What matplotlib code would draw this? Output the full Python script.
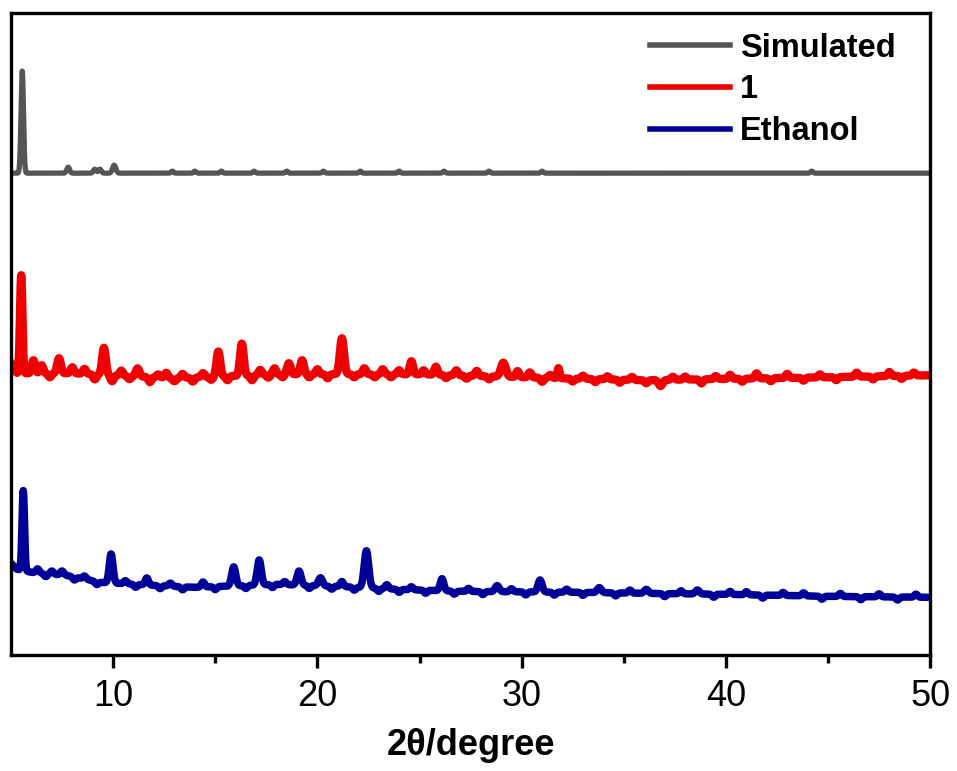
import numpy as np
import matplotlib
matplotlib.use("Agg")
import matplotlib.pyplot as plt

plt.rcParams['font.family'] = ['Liberation Sans', 'DejaVu Sans']

# 2theta grid of the scans
two_theta = np.linspace(5, 50, 4501)

# Simulated pattern (plot units, baseline level + peaks)
sim_base_x = [5.0, 50.0]
sim_base_y = [482, 482]
sim_pos = [5.55, 7.8, 9.1, 9.35, 10.05, 12.9, 14.0, 15.3, 16.9, 18.5, 20.3, 22.1, 24.0, 26.2, 28.4, 31.0, 44.2]
sim_height = [102, 6, 4, 4, 8, 2, 2, 2, 2, 2, 2, 2, 2, 2, 2, 2, 2]
sim_width = [0.06, 0.07, 0.07, 0.07, 0.08, 0.06, 0.06, 0.06, 0.06, 0.06, 0.06, 0.06, 0.06, 0.06, 0.06, 0.06, 0.06]

# Compound 1
c1_base_x = [5.0, 5.3, 8.0, 13.0, 18.0, 25.0, 30.0, 36.0, 45.0, 50.0]
c1_base_y = [292, 282, 282, 277, 281, 281, 278, 275, 278, 280]
c1_pos = [5.5, 6.1, 6.5, 6.9, 7.35, 8.0, 8.6, 9.1, 9.55, 9.95, 10.4, 10.8, 11.2, 11.8, 12.2, 12.6,
          13.0, 13.4, 13.9, 14.4, 14.8, 15.15, 15.6, 16.3, 16.8, 17.2, 17.6, 17.9, 18.3, 18.6,
          19.25, 19.6, 20.0, 20.5, 21.2, 21.8, 22.3, 22.8, 23.2, 23.6, 24.0, 24.6, 25.2, 25.8,
          26.3, 26.8, 27.3, 27.8, 28.4, 29.1, 29.8, 30.4, 31.0, 31.4, 31.8, 32.5, 33.0, 33.6,
          34.2, 34.8, 35.4, 36.1, 36.8, 37.4, 38.0, 38.8, 39.5, 40.2, 40.8, 41.5, 42.2, 43.0,
          43.8, 44.6, 45.4, 46.4, 47.2, 48.0, 48.6, 49.2]
c1_height = [98, 13, 8, -4, 15, 6, 5, -5, 27, -6, 5, -3, 8, -5, 3, 5,
             -3, 4, -4, 4, -3, 25, -4, 32, -5, 5, -3, 6, -3, 11,
             14, -3, 5, -4, 36, -3, 6, -3, 5, -3, 4, 13, 4, 8,
             -3, 5, -3, 5, -3, 14, 6, 5, -4, 3, 10, -3, 3, -3,
             3, -3, 3, -3, -6, 3, 3, -4, 3, 4, -3, 5, -3, 4,
             -3, 3, -3, 4, -3, 4, -3, 3]
c1_width = [0.06, 0.08, 0.08, 0.08, 0.09, 0.08, 0.08, 0.08, 0.09, 0.08, 0.08, 0.08, 0.09, 0.08, 0.08, 0.08,
            0.08, 0.08, 0.08, 0.08, 0.08, 0.09, 0.08, 0.09, 0.08, 0.08, 0.08, 0.08, 0.08, 0.09,
            0.09, 0.08, 0.08, 0.08, 0.1, 0.08, 0.08, 0.08, 0.08, 0.08, 0.08, 0.08, 0.08, 0.08,
            0.08, 0.08, 0.08, 0.08, 0.08, 0.12, 0.08, 0.08, 0.08, 0.08, 0.05, 0.08, 0.08, 0.08,
            0.08, 0.08, 0.08, 0.08, 0.1, 0.08, 0.08, 0.08, 0.08, 0.08, 0.08, 0.08, 0.08, 0.08,
            0.08, 0.08, 0.08, 0.08, 0.08, 0.08, 0.08, 0.08]

# Ethanol-soaked sample
et_base_x = [5.0, 5.3, 6.0, 7.7, 9.4, 12.0, 14.0, 18.0, 21.0, 24.0, 27.0, 33.0, 36.0, 40.0, 45.0, 50.0]
et_base_y = [92, 86, 83, 80, 73, 70, 68, 71, 69, 66, 64, 63, 62, 61, 59, 58]
et_pos = [5.6, 6.3, 6.7, 7.0, 7.5, 8.1, 8.6, 9.2, 9.9, 10.6, 11.1, 11.65, 12.3, 12.8, 13.4, 14.4,
          15.0, 15.9, 16.5, 17.15, 17.8, 18.4, 19.1, 19.6, 20.15, 20.7, 21.2, 21.8, 22.4,
          23.0, 23.4, 24.0, 24.6, 25.3, 26.1, 26.7, 27.4, 28.1, 28.8, 29.5, 30.2, 30.9,
          31.6, 32.2, 33.0, 33.8, 34.6, 35.3, 36.1, 37.0, 37.8, 38.6, 39.4, 40.2, 41.0,
          41.8, 42.8, 43.8, 44.7, 45.6, 46.6, 47.5, 48.4, 49.3]
et_height = [80, 4, -3, 3, 4, -3, 3, -3, 29, 3, -3, 7, -3, 3, -3, 5,
             -3, 19, -3, 25, -3, 3, 14, -3, 8, -3, 5, -3, 37,
             -3, 4, -3, 3, -3, 12, -3, 3, -3, 6, 3, -3, 12,
             -3, 3, -3, 5, -3, 3, 4, -3, 3, 4, -3, 3, 3,
             -3, 3, 3, -3, 3, -3, 3, -3, 3]
et_width = [0.06, 0.08, 0.08, 0.08, 0.08, 0.08, 0.08, 0.08, 0.09, 0.08, 0.08, 0.08, 0.08, 0.08, 0.08, 0.08,
            0.08, 0.1, 0.08, 0.1, 0.08, 0.08, 0.1, 0.08, 0.1, 0.08, 0.08, 0.08, 0.11,
            0.08, 0.08, 0.08, 0.08, 0.08, 0.09, 0.08, 0.08, 0.08, 0.1, 0.08, 0.08, 0.1,
            0.08, 0.08, 0.08, 0.1, 0.08, 0.08, 0.1, 0.08, 0.08, 0.1, 0.08, 0.08, 0.08,
            0.08, 0.08, 0.08, 0.08, 0.08, 0.08, 0.08, 0.08, 0.08]


def pattern(base_x, base_y, pos, height, width):
    y = np.interp(two_theta, base_x, base_y).astype(float)
    for p, h, w in zip(pos, height, width):
        y += h * np.exp(-0.5 * ((two_theta - p) / w) ** 2)
    return y


fig = plt.figure(figsize=(9.57, 7.71), dpi=100)
ax = fig.add_axes([0.0115, 0.150, 0.9605, 0.833])

ax.plot(two_theta, pattern(sim_base_x, sim_base_y, sim_pos, sim_height, sim_width),
        color='#555555', lw=3.8, label='Simulated')
ax.plot(two_theta, pattern(c1_base_x, c1_base_y, c1_pos, c1_height, c1_width),
        color='#f00000', lw=6.0, label='1')
ax.plot(two_theta, pattern(et_base_x, et_base_y, et_pos, et_height, et_width),
        color='#000099', lw=5.4, label='Ethanol')

ax.set_xlim(5, 50)
ax.set_ylim(0, 642)
ax.set_yticks([])
ax.set_xticks([10, 20, 30, 40, 50])
ax.set_xticks([15, 25, 35, 45], minor=True)
ax.tick_params(axis='x', which='major', direction='out', length=9, width=2.4,
               labelsize=26, pad=8)
ax.tick_params(axis='x', which='minor', direction='out', length=6, width=2.4)
for s in ax.spines.values():
    s.set_linewidth(2.4)

ax.set_xlabel('2θ/degree', fontsize=26, fontweight='bold', labelpad=10)

leg = ax.legend(loc='upper right', bbox_to_anchor=(0.984, 1.0), frameon=False,
                prop={'size': 23.5, 'weight': 'bold'}, handlelength=2.45,
                handletextpad=0.3, labelspacing=0.33, borderaxespad=0.2)
for line in leg.get_lines():
    line.set_linewidth(4)

fig.savefig('out.png', dpi=100)
